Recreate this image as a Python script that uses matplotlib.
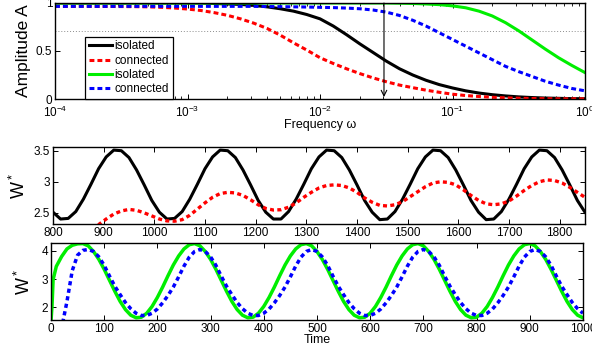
import matplotlib
matplotlib.use('Agg')
import matplotlib.pyplot as plt

plt.rcParams['font.family'] = ['Liberation Sans', 'DejaVu Sans']
plt.rcParams['mathtext.fontset'] = 'custom'
plt.rcParams['mathtext.rm'] = 'Liberation Sans'
plt.rcParams['mathtext.it'] = 'Liberation Sans:italic'

# --- top panel: amplitude vs frequency ---
freq = [1.0e-4, 1.259e-4, 1.585e-4, 1.995e-4, 2.512e-4, 3.162e-4, 3.981e-4, 5.012e-4, 6.310e-4, 7.943e-4,
        1.0e-3, 1.259e-3, 1.585e-3, 1.995e-3, 2.512e-3, 3.162e-3, 3.981e-3, 5.012e-3, 6.310e-3, 7.943e-3,
        1.0e-2, 1.259e-2, 1.585e-2, 1.995e-2, 2.512e-2, 3.162e-2, 3.981e-2, 5.012e-2, 6.310e-2, 7.943e-2,
        1.0e-1, 1.259e-1, 1.585e-1, 1.995e-1, 2.512e-1, 3.162e-1, 3.981e-1, 5.012e-1, 6.310e-1, 7.943e-1,
        1.0]
amp_iso1 = [1.0, 1.0, 1.0, 1.0, 1.0, 1.0, 1.0, 1.0, 1.0, 1.0,
            1.0, 1.0, 0.995, 0.99, 0.985, 0.975, 0.96, 0.94, 0.915, 0.88,
            0.835, 0.76, 0.67, 0.575, 0.485, 0.395, 0.315, 0.25, 0.195, 0.15,
            0.115, 0.085, 0.062, 0.045, 0.032, 0.022, 0.015, 0.01, 0.007, 0.004,
            0.003]
amp_con1 = [0.965, 0.965, 0.965, 0.964, 0.964, 0.963, 0.962, 0.96, 0.955, 0.948,
            0.937, 0.922, 0.90, 0.872, 0.835, 0.79, 0.735, 0.665, 0.585, 0.51,
            0.43, 0.37, 0.315, 0.265, 0.22, 0.18, 0.145, 0.118, 0.092, 0.07,
            0.05, 0.036, 0.026, 0.018, 0.012, 0.008, 0.005, 0.003, 0.002, 0.002,
            0.002]
amp_iso2 = [1.0, 1.0, 1.0, 1.0, 1.0, 1.0, 1.0, 1.0, 1.0, 1.0,
            1.0, 1.0, 1.0, 1.0, 1.0, 1.0, 1.0, 1.0, 1.0, 1.0,
            1.0, 1.0, 1.0, 1.0, 1.0, 1.0, 0.998, 0.995, 0.99, 0.983,
            0.97, 0.95, 0.915, 0.865, 0.795, 0.71, 0.615, 0.52, 0.43, 0.35,
            0.275]
amp_con2 = [0.965, 0.965, 0.965, 0.965, 0.965, 0.965, 0.965, 0.965, 0.965, 0.965,
            0.965, 0.965, 0.965, 0.965, 0.965, 0.965, 0.963, 0.962, 0.96, 0.958,
            0.955, 0.952, 0.947, 0.94, 0.927, 0.905, 0.87, 0.82, 0.76, 0.69,
            0.62, 0.55, 0.48, 0.41, 0.34, 0.285, 0.235, 0.185, 0.145, 0.11,
            0.085]
half_power = 0.707
arrow_freq = 0.0304
arrow_top = 1.0
arrow_bottom = 0.02
legend_labels = ['isolated', 'connected', 'isolated', 'connected']

# --- middle panel: W* for t = 800..1850 ---
time_mid = [800, 815, 830, 845, 860, 875, 890, 905, 920, 935, 950, 965, 980, 995,
            1010, 1025, 1040, 1055, 1070, 1085, 1100, 1115, 1130, 1145, 1160, 1175, 1190, 1205,
            1220, 1235, 1250, 1265, 1280, 1295, 1310, 1325, 1340, 1355, 1370, 1385, 1400, 1415,
            1430, 1445, 1460, 1475, 1490, 1505, 1520, 1535, 1550, 1565, 1580, 1595, 1610, 1625,
            1640, 1655, 1670, 1685, 1700, 1715, 1730, 1745, 1760, 1775, 1790, 1805, 1820, 1835,
            1850]
w_iso_mid = [2.51, 2.40, 2.41, 2.52, 2.72, 2.96, 3.21, 3.40, 3.51, 3.50, 3.39, 3.19, 2.95, 2.70,
             2.51, 2.40, 2.41, 2.52, 2.72, 2.96, 3.21, 3.40, 3.51, 3.50, 3.39, 3.19, 2.95, 2.70,
             2.51, 2.40, 2.40, 2.52, 2.72, 2.96, 3.21, 3.40, 3.51, 3.50, 3.39, 3.19, 2.95, 2.70,
             2.51, 2.39, 2.40, 2.52, 2.72, 2.96, 3.21, 3.40, 3.51, 3.50, 3.39, 3.19, 2.95, 2.70,
             2.51, 2.39, 2.40, 2.52, 2.72, 2.96, 3.21, 3.40, 3.51, 3.50, 3.39, 3.19, 2.95, 2.70,
             2.51]
w_con_mid = [2.27, 2.31, 2.40, 2.48, 2.53, 2.555, 2.54, 2.50, 2.45,
             2.40, 2.37, 2.365, 2.39, 2.46, 2.56, 2.66, 2.75, 2.81, 2.83, 2.82, 2.78, 2.71, 2.63,
             2.57, 2.545, 2.55, 2.59, 2.66, 2.75, 2.83, 2.90, 2.94, 2.95, 2.94, 2.90, 2.83, 2.74,
             2.67, 2.62, 2.61, 2.63, 2.68, 2.76, 2.84, 2.92, 2.98, 3.00, 2.99, 2.95, 2.87, 2.78,
             2.70, 2.645, 2.63, 2.645, 2.69, 2.77, 2.86, 2.94, 3.00, 3.03, 3.02, 2.98, 2.91, 2.83,
             2.75]
time_mid_con = time_mid[5:]

# --- bottom panel: W* for t = 0..1000 ---
time_bot = [0, 2, 4, 10, 20, 30, 40, 50, 60, 70, 80, 90, 100,
            110, 120, 130, 140, 150, 160, 170, 180, 190, 200,
            210, 220, 230, 240, 250, 260, 270, 280, 290, 300,
            310, 320, 330, 340, 350, 360, 370, 380, 390, 400,
            410, 420, 430, 440, 450, 460, 470, 480, 490, 500,
            510, 520, 530, 540, 550, 560, 570, 580, 590, 600,
            610, 620, 630, 640, 650, 660, 670, 680, 690, 700,
            710, 720, 730, 740, 750, 760, 770, 780, 790, 800,
            810, 820, 830, 840, 850, 860, 870, 880, 890, 900,
            910, 920, 930, 940, 950, 960, 970, 980, 990, 1000]
w_iso_bot = [1.5, 2.06, 2.98, 3.45, 3.80, 4.07, 4.20, 4.25,
             4.26, 4.18, 3.98, 3.70, 3.35, 2.96, 2.57, 2.21, 1.92, 1.72, 1.63, 1.65, 1.79, 2.03, 2.35, 2.72, 3.12, 3.50, 3.82, 4.07, 4.22,
             4.26, 4.18, 3.98, 3.70, 3.35, 2.96, 2.57, 2.21, 1.92, 1.72, 1.63, 1.65, 1.79, 2.03, 2.35, 2.72, 3.12, 3.50, 3.82, 4.07, 4.22,
             4.26, 4.18, 3.98, 3.70, 3.35, 2.96, 2.57, 2.21, 1.92, 1.72, 1.63, 1.65, 1.79, 2.03, 2.35, 2.72, 3.12, 3.50, 3.82, 4.07, 4.22,
             4.26, 4.18, 3.98, 3.70, 3.35, 2.96, 2.57, 2.21, 1.92, 1.72, 1.63, 1.65, 1.79, 2.03, 2.35, 2.72, 3.12, 3.50, 3.82, 4.07, 4.22,
             4.26, 4.18, 3.98, 3.70, 3.35, 2.96, 2.57, 2.21, 1.92, 1.72, 1.63]
time_bot_con = [22] + time_bot[5:]
w_con_bot = [1.45, 2.2, 3.3, 3.85, 4.02,
             4.05, 3.98, 3.79, 3.49, 3.11, 2.75, 2.45, 2.17, 1.95, 1.79, 1.71, 1.71, 1.79, 1.94, 2.16, 2.42, 2.72, 3.08, 3.46, 3.78, 3.98,
             4.05, 3.98, 3.79, 3.49, 3.11, 2.75, 2.45, 2.17, 1.95, 1.79, 1.71, 1.71, 1.79, 1.94, 2.16, 2.42, 2.72, 3.08, 3.46, 3.78, 3.98,
             4.05, 3.98, 3.79, 3.49, 3.11, 2.75, 2.45, 2.17, 1.95, 1.79, 1.71, 1.71, 1.79, 1.94, 2.16, 2.42, 2.72, 3.08, 3.46, 3.78, 3.98,
             4.05, 3.98, 3.79, 3.49, 3.11, 2.75, 2.45, 2.17, 1.95, 1.79, 1.71, 1.71, 1.79, 1.94, 2.16, 2.42, 2.72, 3.08, 3.46, 3.78, 3.98,
             4.05, 3.98, 3.79, 3.49, 3.11, 2.75, 2.45, 2.17, 1.95, 1.79]

GREEN = '#00ee00'
LW = 2.2
tick_fs = 8.5


def style_axes(ax, xpad=2.5):
    ax.tick_params(which='both', direction='in', top=True, right=True, labelsize=tick_fs)
    ax.tick_params(axis='x', pad=xpad)
    ax.tick_params(axis='y', pad=2)
    ax.tick_params(which='major', length=3.5, width=0.7)
    ax.tick_params(which='minor', length=2, width=0.6)
    for s in ax.spines.values():
        s.set_linewidth(1.0)


fig = plt.figure(figsize=(5.92, 3.56), dpi=100)

# top
ax1 = fig.add_axes([0.0929, 0.7219, 0.8953, 0.2697])
ax1.axhline(half_power, color='0.55', lw=0.7, ls=(0, (1, 2)))
ax1.plot(freq, amp_iso1, color='k', lw=LW, label=legend_labels[0])
ax1.plot(freq, amp_con1, color='r', lw=LW, dashes=(1.6, 1.0), label=legend_labels[1])
ax1.plot(freq, amp_iso2, color=GREEN, lw=LW, label=legend_labels[2])
ax1.plot(freq, amp_con2, color='b', lw=LW, dashes=(1.6, 1.0), label=legend_labels[3])
ax1.annotate('', xy=(arrow_freq, arrow_bottom), xytext=(arrow_freq, arrow_top),
             arrowprops=dict(arrowstyle='->', color='k', lw=0.8, shrinkA=0, shrinkB=0))
ax1.set_xscale('log')
ax1.set_xlim(1e-4, 1)
ax1.set_ylim(0, 1)
ax1.set_yticks([0, 0.5, 1])
ax1.set_yticklabels(['0', '0.5', '1'])
ax1.set_xlabel('Frequency ω', fontsize=9, labelpad=-1)
ax1.set_ylabel('Amplitude A', fontsize=12.5)
ax1.yaxis.set_label_coords(-0.046, 0.5)
style_axes(ax1, xpad=4.5)
leg = ax1.legend(loc='lower left', bbox_to_anchor=(0.057, 0.0), borderaxespad=0,
                 fontsize=8.5, fancybox=False, framealpha=1, edgecolor='k',
                 handlelength=2.0, handletextpad=0.2, labelspacing=0.2, borderpad=0.3)
leg.get_frame().set_linewidth(0.9)

# middle
ax2 = fig.add_axes([0.0895, 0.3708, 0.8986, 0.2163])
ax2.plot(time_mid, w_iso_mid, color='k', lw=LW)
ax2.plot(time_mid_con, w_con_mid, color='r', lw=2.4, dashes=(1.2, 1.0))
ax2.set_xlim(800, 1850)
ax2.set_ylim(2.32, 3.56)
ax2.set_xticks([800, 900, 1000, 1100, 1200, 1300, 1400, 1500, 1600, 1700, 1800])
ax2.set_yticks([2.5, 3, 3.5])
ax2.set_yticklabels(['2.5', '3', '3.5'])
ax2.set_ylabel('W$^*$', fontsize=13)
ax2.yaxis.set_label_coords(-0.045, 0.5)
style_axes(ax2)

# bottom
ax3 = fig.add_axes([0.0861, 0.1011, 0.8986, 0.2163])
ax3.plot(time_bot, w_iso_bot, color=GREEN, lw=2.5)
ax3.plot(time_bot_con, w_con_bot, color='b', lw=2.5, dashes=(1.2, 1.0))
ax3.set_xlim(0, 1000)
ax3.set_ylim(1.55, 4.28)
ax3.set_xticks([0, 100, 200, 300, 400, 500, 600, 700, 800, 900, 1000])
ax3.set_yticks([2, 3, 4])
ax3.set_xlabel('Time', fontsize=9, labelpad=-1)
ax3.set_ylabel('W$^*$', fontsize=13)
ax3.yaxis.set_label_coords(-0.032, 0.5)
style_axes(ax3)

fig.savefig('out.png', dpi=100)
